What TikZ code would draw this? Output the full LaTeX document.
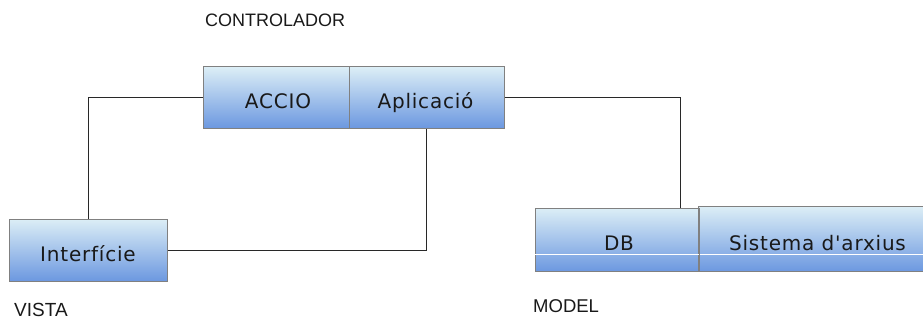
\documentclass[tikz,border=0pt]{standalone}
\usepackage{fontspec}
\newfontfamily\boxfont{DejaVu Sans}[LetterSpace=4]
\newfontfamily\labfont{Liberation Sans}
\usetikzlibrary{calc}
\definecolor{boxtop}{RGB}{220,238,246}
\definecolor{boxbot}{RGB}{108,152,224}
\definecolor{boxedge}{RGB}{128,128,128}
\definecolor{wire}{RGB}{40,40,40}
\tikzset{
  box/.style={rectangle, draw=boxedge, line width=1pt, top color=boxtop, bottom color=boxbot, inner sep=0pt},
  boxtext/.style={anchor=base, inner sep=0pt, font=\boxfont\fontsize{20}{24}\selectfont, text=black!90},
  lab/.style={anchor=base west, inner sep=0pt, text depth=0pt, font=\labfont\fontsize{18}{22}\selectfont, text=black!90},
  wire/.style={draw=wire, line width=1pt}
}
\begin{document}
\begin{tikzpicture}[x=1pt,y=-1pt]
\useasboundingbox (0,0) rectangle (923,321);
% boxes
\node[box, minimum width=146pt, minimum height=61pt] (accio) at (276,97.5) {};
\node[box, minimum width=155pt, minimum height=61pt] (aplic) at (426.5,97.5) {};
\node[box, minimum width=158pt, minimum height=62pt] (interf) at (88,250) {};
\node[box, minimum width=163pt, minimum height=63.5pt] (db) at (617.2,239.75) {};
\node[box, minimum width=232pt, minimum height=65pt] (sis) at (814.7,239) {};
\draw[white, line width=0.8pt] (db.west |- 0,254.3) -- (sis.east |- 0,254.3);
\draw[boxedge, line width=1pt] (db.north east) -- (db.south east);
% texts
\node[boxtext] (taccio) at (278,108) {ACCIO};
\node[boxtext] (taplic) at (425.5,108) {Aplicació};
\node[boxtext] (tinterf) at (88,261) {Interfície};
\node[boxtext] (tdb) at (619,250) {DB};
\node[boxtext] (tsis) at (817.5,250) {Sistema d'arxius};
% labels
\node[lab] (lcontr) at (205,27) {CONTROLADOR};
\node[lab, font=\labfont\fontsize{19}{22}\selectfont] (lvista) at (14,316.5) {VISTA};
\node[lab, font=\labfont\fontsize{18.5}{22}\selectfont] (lmodel) at (533,312) {MODEL};
% connectors
\draw[wire] (accio.west) -| (interf.north);
\draw[wire] (interf.east) -| (aplic.south);
\coordinate (dbin) at ([xshift=-18.7pt]db.north east);
\draw[wire] (aplic.east) -| (dbin);
\end{tikzpicture}
\end{document}
